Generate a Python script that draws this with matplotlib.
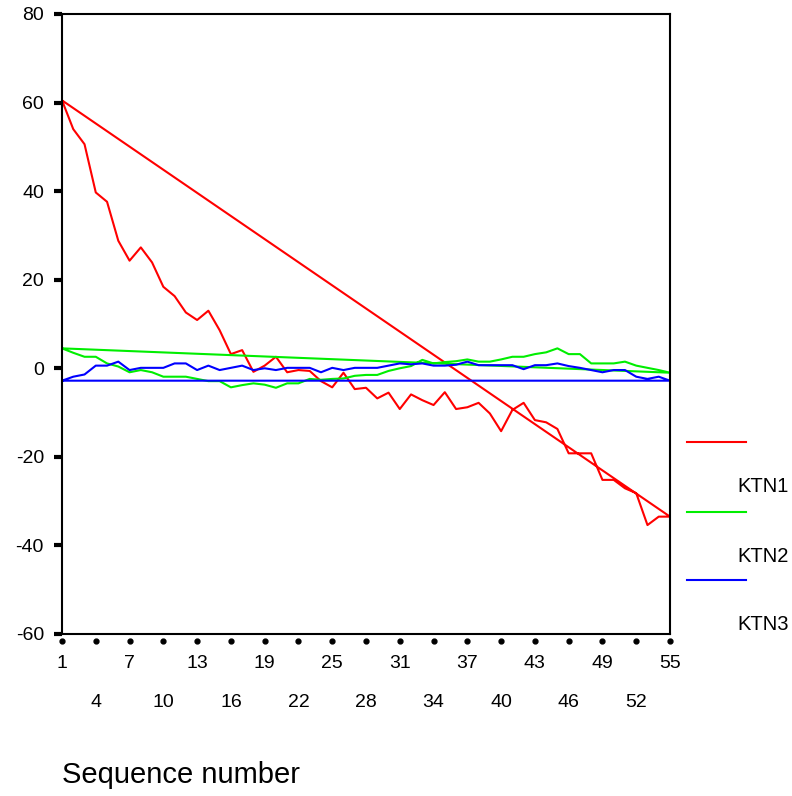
import numpy as np
import matplotlib.pyplot as plt

plt.rcParams['font.family'] = ['Liberation Sans', 'DejaVu Sans']
plt.rcParams['axes.unicode_minus'] = False

seq = np.arange(1, 56)

ktn1 = [60.5, 54.0, 50.6, 39.7, 37.6, 28.8, 24.3, 27.3, 23.9, 18.4,
        16.3, 12.6, 10.9, 13.0, 8.6, 3.2, 4.1, -0.8, 0.6, 2.6,
        -0.9, -0.4, -0.6, -2.9, -4.3, -1.0, -4.7, -4.4, -6.8, -5.5,
        -9.2, -5.9, -7.2, -8.3, -5.4, -9.2, -8.8, -7.8, -10.2, -14.2,
        -9.4, -7.8, -11.7, -12.2, -13.7, -19.2, -19.2, -19.2, -25.2, -25.2,
        -27.1, -28.2, -35.4, -33.5, -33.5]
ktn2 = [4.5, 3.5, 2.6, 2.6, 1.1, 0.4, -0.9, -0.4, -0.9, -1.9,
        -1.9, -1.9, -2.4, -2.9, -2.9, -4.3, -3.8, -3.4, -3.7, -4.4,
        -3.4, -3.4, -2.4, -2.6, -2.4, -2.3, -1.7, -1.5, -1.5, -0.6,
        0.0, 0.5, 1.9, 1.1, 1.4, 1.6, 2.0, 1.5, 1.5, 2.0,
        2.6, 2.6, 3.2, 3.6, 4.5, 3.2, 3.2, 1.1, 1.1, 1.1,
        1.5, 0.6, 0.1, -0.4, -1.0]
ktn3 = [-2.8, -1.9, -1.4, 0.6, 0.6, 1.5, -0.4, 0.1, 0.1, 0.1,
        1.1, 1.1, -0.4, 0.6, -0.4, 0.1, 0.6, -0.4, 0.0, -0.4,
        0.1, 0.1, 0.1, -0.9, 0.1, -0.4, 0.1, 0.1, 0.1, 0.6,
        1.1, 0.9, 1.1, 0.6, 0.6, 0.8, 1.5, 0.7, 0.7, 0.7,
        0.7, -0.2, 0.7, 0.7, 1.1, 0.5, 0.1, -0.4, -0.9, -0.4,
        -0.4, -1.9, -2.4, -1.9, -2.8]

names = ['KTN1', 'KTN2', 'KTN3']
colours = ['#ff0000', '#00ee00', '#0000ff']

fig = plt.figure(figsize=(7.92, 7.96), dpi=100)
ax = fig.add_axes([62 / 792, 162 / 796, 608 / 792, 620 / 796])

for vals, c in zip([ktn1, ktn2, ktn3], colours):
    v = np.asarray(vals)
    # each series is closed back onto its first point
    ax.plot(np.r_[seq, seq[0]], np.r_[v, v[0]], color=c, lw=1.5)

ax.set_xlim(1, 55)
ax.set_ylim(-60, 80)
for s in ax.spines.values():
    s.set_linewidth(1.5)

ax.set_yticks(np.arange(-60, 81, 20))
ax.tick_params(axis='y', length=6, width=3, pad=7, labelsize=14, direction='out')
ax.set_xticks([])

# dotted x ticks with labels on two staggered rows
xt = seq[::3]
trans = ax.get_xaxis_transform()
ax.plot(xt, np.full(len(xt), -0.0115), 'o', color='black', ms=3.5,
        transform=trans, clip_on=False)
for i, t in enumerate(xt):
    y = -0.047 if i % 2 == 0 else -0.110
    ax.text(t, y, str(t), transform=trans, ha='center', va='center', fontsize=14)

fig.text(62 / 792, 21 / 796, 'Sequence number', ha='left', va='center', fontsize=21)

# legend: line, then its label offset below it
line_y = [442, 512, 580]
text_y = [487, 557, 625]
for c, n, ly, ty in zip(colours, names, line_y, text_y):
    fig.add_artist(plt.Line2D([687 / 792, 746 / 792], [1 - ly / 796, 1 - ly / 796],
                              color=c, lw=1.5))
    fig.text(737 / 792, 1 - ty / 796, n, ha='left', va='center', fontsize=14.5)

fig.savefig('out.png', dpi=100)
